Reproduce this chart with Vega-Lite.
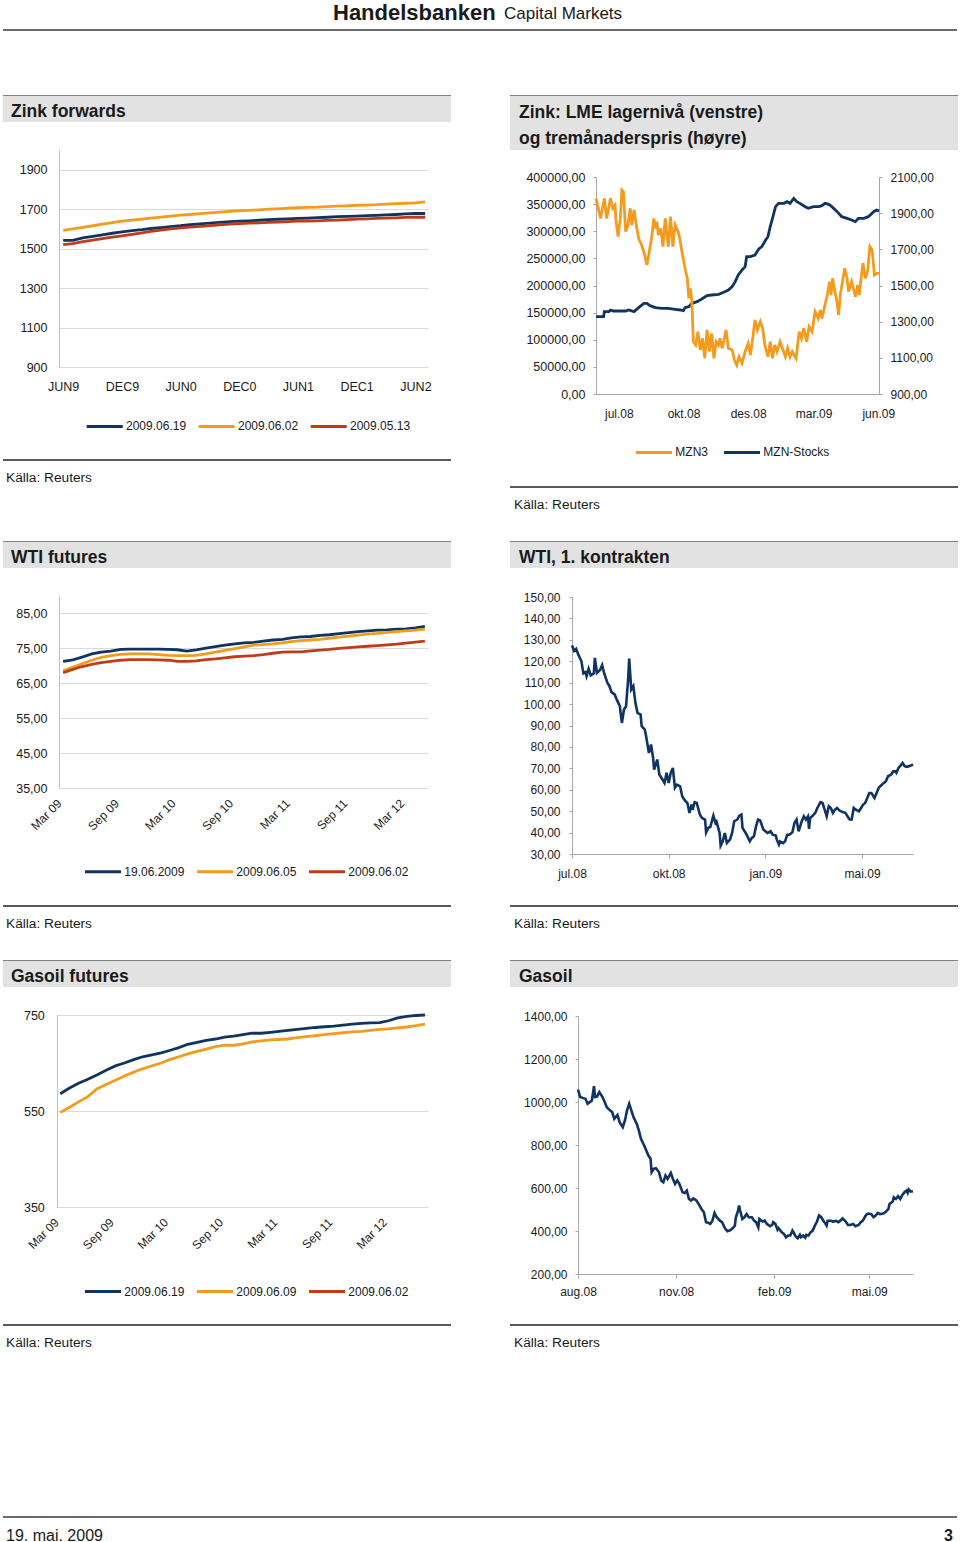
{
"$schema":"https://vega.github.io/schema/vega-lite/v6.json",
"padding":{"left":3,"top":1,"right":0,"bottom":0},
"background":"#ffffff",
"spacing":0,
"resolve":{"scale":{"color":"independent"}},
"config":{
  "view":{"stroke":null},
  "font":"Liberation Sans",
  "concat":{"spacing":0},
  "axis":{"labelFont":"Liberation Sans","labelColor":"#1a1a1a","labelFontSize":12,"domainColor":"#a6a6a6","tickColor":"#a6a6a6","gridColor":"#d9d9d9","labelFlush":false,"labelOverlap":false},
  "legend":{"labelFont":"Liberation Sans","labelFontSize":12,"labelColor":"#1a1a1a"},
  "title":{"font":"Liberation Sans","color":"#1a1a1a","anchor":"start","frame":"group"}
},
"datasets":{
"zf":[
{"contract":"2009-06-01","curve":"2009.06.19","price":1542},{"contract":"2009-06-01","curve":"2009.06.02","price":1593},{"contract":"2009-06-01","curve":"2009.05.13","price":1520},
{"contract":"2009-07-01","curve":"2009.06.19","price":1542},{"contract":"2009-07-01","curve":"2009.06.02","price":1600},{"contract":"2009-07-01","curve":"2009.05.13","price":1525},
{"contract":"2009-08-01","curve":"2009.06.19","price":1555},{"contract":"2009-08-01","curve":"2009.06.02","price":1608},{"contract":"2009-08-01","curve":"2009.05.13","price":1535},
{"contract":"2009-09-01","curve":"2009.06.19","price":1562},{"contract":"2009-09-01","curve":"2009.06.02","price":1616},{"contract":"2009-09-01","curve":"2009.05.13","price":1543},
{"contract":"2009-10-01","curve":"2009.06.19","price":1570},{"contract":"2009-10-01","curve":"2009.06.02","price":1624},{"contract":"2009-10-01","curve":"2009.05.13","price":1551},
{"contract":"2009-11-01","curve":"2009.06.19","price":1578},{"contract":"2009-11-01","curve":"2009.06.02","price":1632},{"contract":"2009-11-01","curve":"2009.05.13","price":1558},
{"contract":"2009-12-01","curve":"2009.06.19","price":1585},{"contract":"2009-12-01","curve":"2009.06.02","price":1640},{"contract":"2009-12-01","curve":"2009.05.13","price":1565},
{"contract":"2010-01-01","curve":"2009.06.19","price":1591},{"contract":"2010-01-01","curve":"2009.06.02","price":1645},{"contract":"2010-01-01","curve":"2009.05.13","price":1572},
{"contract":"2010-02-01","curve":"2009.06.19","price":1596},{"contract":"2010-02-01","curve":"2009.06.02","price":1650},{"contract":"2010-02-01","curve":"2009.05.13","price":1580},
{"contract":"2010-03-01","curve":"2009.06.19","price":1602},{"contract":"2010-03-01","curve":"2009.06.02","price":1655},{"contract":"2010-03-01","curve":"2009.05.13","price":1587},
{"contract":"2010-04-01","curve":"2009.06.19","price":1607},{"contract":"2010-04-01","curve":"2009.06.02","price":1660},{"contract":"2010-04-01","curve":"2009.05.13","price":1594},
{"contract":"2010-05-01","curve":"2009.06.19","price":1612},{"contract":"2010-05-01","curve":"2009.06.02","price":1665},{"contract":"2010-05-01","curve":"2009.05.13","price":1600},
{"contract":"2010-06-01","curve":"2009.06.19","price":1616},{"contract":"2010-06-01","curve":"2009.06.02","price":1670},{"contract":"2010-06-01","curve":"2009.05.13","price":1605},
{"contract":"2010-07-01","curve":"2009.06.19","price":1621},{"contract":"2010-07-01","curve":"2009.06.02","price":1673},{"contract":"2010-07-01","curve":"2009.05.13","price":1609},
{"contract":"2010-08-01","curve":"2009.06.19","price":1625},{"contract":"2010-08-01","curve":"2009.06.02","price":1677},{"contract":"2010-08-01","curve":"2009.05.13","price":1613},
{"contract":"2010-09-01","curve":"2009.06.19","price":1629},{"contract":"2010-09-01","curve":"2009.06.02","price":1681},{"contract":"2010-09-01","curve":"2009.05.13","price":1617},
{"contract":"2010-10-01","curve":"2009.06.19","price":1633},{"contract":"2010-10-01","curve":"2009.06.02","price":1685},{"contract":"2010-10-01","curve":"2009.05.13","price":1621},
{"contract":"2010-11-01","curve":"2009.06.19","price":1637},{"contract":"2010-11-01","curve":"2009.06.02","price":1689},{"contract":"2010-11-01","curve":"2009.05.13","price":1624},
{"contract":"2010-12-01","curve":"2009.06.19","price":1639},{"contract":"2010-12-01","curve":"2009.06.02","price":1692},{"contract":"2010-12-01","curve":"2009.05.13","price":1627},
{"contract":"2011-01-01","curve":"2009.06.19","price":1641},{"contract":"2011-01-01","curve":"2009.06.02","price":1694},{"contract":"2011-01-01","curve":"2009.05.13","price":1629},
{"contract":"2011-02-01","curve":"2009.06.19","price":1644},{"contract":"2011-02-01","curve":"2009.06.02","price":1697},{"contract":"2011-02-01","curve":"2009.05.13","price":1631},
{"contract":"2011-03-01","curve":"2009.06.19","price":1647},{"contract":"2011-03-01","curve":"2009.06.02","price":1700},{"contract":"2011-03-01","curve":"2009.05.13","price":1633},
{"contract":"2011-04-01","curve":"2009.06.19","price":1649},{"contract":"2011-04-01","curve":"2009.06.02","price":1702},{"contract":"2011-04-01","curve":"2009.05.13","price":1635},
{"contract":"2011-05-01","curve":"2009.06.19","price":1651},{"contract":"2011-05-01","curve":"2009.06.02","price":1705},{"contract":"2011-05-01","curve":"2009.05.13","price":1637},
{"contract":"2011-06-01","curve":"2009.06.19","price":1653},{"contract":"2011-06-01","curve":"2009.06.02","price":1708},{"contract":"2011-06-01","curve":"2009.05.13","price":1639},
{"contract":"2011-07-01","curve":"2009.06.19","price":1655},{"contract":"2011-07-01","curve":"2009.06.02","price":1709},{"contract":"2011-07-01","curve":"2009.05.13","price":1640},
{"contract":"2011-08-01","curve":"2009.06.19","price":1657},{"contract":"2011-08-01","curve":"2009.06.02","price":1710},{"contract":"2011-08-01","curve":"2009.05.13","price":1641},
{"contract":"2011-09-01","curve":"2009.06.19","price":1659},{"contract":"2011-09-01","curve":"2009.06.02","price":1713},{"contract":"2011-09-01","curve":"2009.05.13","price":1643},
{"contract":"2011-10-01","curve":"2009.06.19","price":1662},{"contract":"2011-10-01","curve":"2009.06.02","price":1715},{"contract":"2011-10-01","curve":"2009.05.13","price":1645},
{"contract":"2011-11-01","curve":"2009.06.19","price":1664},{"contract":"2011-11-01","curve":"2009.06.02","price":1717},{"contract":"2011-11-01","curve":"2009.05.13","price":1647},
{"contract":"2011-12-01","curve":"2009.06.19","price":1665},{"contract":"2011-12-01","curve":"2009.06.02","price":1720},{"contract":"2011-12-01","curve":"2009.05.13","price":1650},
{"contract":"2012-01-01","curve":"2009.06.19","price":1667},{"contract":"2012-01-01","curve":"2009.06.02","price":1721},{"contract":"2012-01-01","curve":"2009.05.13","price":1651},
{"contract":"2012-02-01","curve":"2009.06.19","price":1669},{"contract":"2012-02-01","curve":"2009.06.02","price":1723},{"contract":"2012-02-01","curve":"2009.05.13","price":1653},
{"contract":"2012-03-01","curve":"2009.06.19","price":1671},{"contract":"2012-03-01","curve":"2009.06.02","price":1726},{"contract":"2012-03-01","curve":"2009.05.13","price":1655},
{"contract":"2012-04-01","curve":"2009.06.19","price":1673},{"contract":"2012-04-01","curve":"2009.06.02","price":1728},{"contract":"2012-04-01","curve":"2009.05.13","price":1656},
{"contract":"2012-05-01","curve":"2009.06.19","price":1676},{"contract":"2012-05-01","curve":"2009.06.02","price":1730},{"contract":"2012-05-01","curve":"2009.05.13","price":1658},
{"contract":"2012-06-01","curve":"2009.06.19","price":1678},{"contract":"2012-06-01","curve":"2009.06.02","price":1732},{"contract":"2012-06-01","curve":"2009.05.13","price":1659},
{"contract":"2012-07-01","curve":"2009.06.19","price":1678},{"contract":"2012-07-01","curve":"2009.06.02","price":1737},{"contract":"2012-07-01","curve":"2009.05.13","price":1659}
],
"zp":[
{"date":"2008-06-12","series":"MZN3","price":1982},{"date":"2008-06-18","series":"MZN3","price":1871},{"date":"2008-06-23","series":"MZN3","price":1982},{"date":"2008-06-26","series":"MZN3","price":1871},
{"date":"2008-07-01","series":"MZN3","price":1982},{"date":"2008-07-04","series":"MZN3","price":1927},{"date":"2008-07-07","series":"MZN3","price":1945},{"date":"2008-07-08","series":"MZN3","price":1871},
{"date":"2008-07-11","series":"MZN3","price":1770},{"date":"2008-07-14","series":"MZN3","price":1871},{"date":"2008-07-16","series":"MZN3","price":2028},{"date":"2008-07-18","series":"MZN3","price":2019},
{"date":"2008-07-21","series":"MZN3","price":1798},{"date":"2008-07-24","series":"MZN3","price":1835},{"date":"2008-07-27","series":"MZN3","price":1927},{"date":"2008-07-29","series":"MZN3","price":1835},
{"date":"2008-08-01","series":"MZN3","price":1918},{"date":"2008-08-04","series":"MZN3","price":1835},{"date":"2008-08-07","series":"MZN3","price":1761},{"date":"2008-08-11","series":"MZN3","price":1724},
{"date":"2008-08-15","series":"MZN3","price":1669},{"date":"2008-08-18","series":"MZN3","price":1613},{"date":"2008-08-21","series":"MZN3","price":1687},{"date":"2008-08-24","series":"MZN3","price":1761},
{"date":"2008-08-27","series":"MZN3","price":1871},{"date":"2008-08-29","series":"MZN3","price":1816},{"date":"2008-08-31","series":"MZN3","price":1853},{"date":"2008-09-02","series":"MZN3","price":1779},
{"date":"2008-09-05","series":"MZN3","price":1816},{"date":"2008-09-08","series":"MZN3","price":1715},{"date":"2008-09-11","series":"MZN3","price":1871},{"date":"2008-09-13","series":"MZN3","price":1788},
{"date":"2008-09-15","series":"MZN3","price":1715},{"date":"2008-09-18","series":"MZN3","price":1881},{"date":"2008-09-21","series":"MZN3","price":1715},{"date":"2008-09-24","series":"MZN3","price":1835},
{"date":"2008-09-28","series":"MZN3","price":1798},{"date":"2008-09-30","series":"MZN3","price":1761},{"date":"2008-10-03","series":"MZN3","price":1687},{"date":"2008-10-07","series":"MZN3","price":1595},
{"date":"2008-10-10","series":"MZN3","price":1540},{"date":"2008-10-12","series":"MZN3","price":1429},{"date":"2008-10-14","series":"MZN3","price":1484},{"date":"2008-10-16","series":"MZN3","price":1411},
{"date":"2008-10-18","series":"MZN3","price":1189},{"date":"2008-10-21","series":"MZN3","price":1171},{"date":"2008-10-24","series":"MZN3","price":1245},{"date":"2008-10-27","series":"MZN3","price":1143},
{"date":"2008-10-30","series":"MZN3","price":1208},{"date":"2008-11-02","series":"MZN3","price":1097},{"date":"2008-11-05","series":"MZN3","price":1254},{"date":"2008-11-08","series":"MZN3","price":1134},
{"date":"2008-11-11","series":"MZN3","price":1235},{"date":"2008-11-14","series":"MZN3","price":1097},{"date":"2008-11-17","series":"MZN3","price":1189},{"date":"2008-11-20","series":"MZN3","price":1171},
{"date":"2008-11-22","series":"MZN3","price":1208},{"date":"2008-11-25","series":"MZN3","price":1153},{"date":"2008-11-30","series":"MZN3","price":1254},{"date":"2008-12-03","series":"MZN3","price":1153},
{"date":"2008-12-08","series":"MZN3","price":1143},{"date":"2008-12-11","series":"MZN3","price":1088},{"date":"2008-12-14","series":"MZN3","price":1060},{"date":"2008-12-17","series":"MZN3","price":1106},
{"date":"2008-12-21","series":"MZN3","price":1070},{"date":"2008-12-25","series":"MZN3","price":1134},{"date":"2008-12-29","series":"MZN3","price":1180},{"date":"2009-01-01","series":"MZN3","price":1116},
{"date":"2009-01-04","series":"MZN3","price":1208},{"date":"2009-01-07","series":"MZN3","price":1309},{"date":"2009-01-10","series":"MZN3","price":1254},{"date":"2009-01-14","series":"MZN3","price":1300},
{"date":"2009-01-17","series":"MZN3","price":1263},{"date":"2009-01-20","series":"MZN3","price":1171},{"date":"2009-01-24","series":"MZN3","price":1106},{"date":"2009-01-27","series":"MZN3","price":1189},
{"date":"2009-01-30","series":"MZN3","price":1097},{"date":"2009-02-02","series":"MZN3","price":1171},{"date":"2009-02-05","series":"MZN3","price":1134},{"date":"2009-02-09","series":"MZN3","price":1189},
{"date":"2009-02-12","series":"MZN3","price":1153},{"date":"2009-02-16","series":"MZN3","price":1106},{"date":"2009-02-19","series":"MZN3","price":1153},{"date":"2009-02-22","series":"MZN3","price":1106},
{"date":"2009-02-25","series":"MZN3","price":1134},{"date":"2009-03-02","series":"MZN3","price":1097},{"date":"2009-03-06","series":"MZN3","price":1245},{"date":"2009-03-09","series":"MZN3","price":1208},
{"date":"2009-03-12","series":"MZN3","price":1263},{"date":"2009-03-16","series":"MZN3","price":1189},{"date":"2009-03-19","series":"MZN3","price":1272},{"date":"2009-03-23","series":"MZN3","price":1245},
{"date":"2009-03-25","series":"MZN3","price":1300},{"date":"2009-03-27","series":"MZN3","price":1355},{"date":"2009-03-31","series":"MZN3","price":1318},{"date":"2009-04-03","series":"MZN3","price":1365},
{"date":"2009-04-05","series":"MZN3","price":1318},{"date":"2009-04-08","series":"MZN3","price":1374},{"date":"2009-04-12","series":"MZN3","price":1447},{"date":"2009-04-15","series":"MZN3","price":1521},
{"date":"2009-04-17","series":"MZN3","price":1447},{"date":"2009-04-19","series":"MZN3","price":1540},{"date":"2009-04-22","series":"MZN3","price":1466},{"date":"2009-04-24","series":"MZN3","price":1429},
{"date":"2009-04-27","series":"MZN3","price":1337},{"date":"2009-04-29","series":"MZN3","price":1447},{"date":"2009-05-02","series":"MZN3","price":1521},{"date":"2009-05-05","series":"MZN3","price":1595},
{"date":"2009-05-08","series":"MZN3","price":1540},{"date":"2009-05-10","series":"MZN3","price":1466},{"date":"2009-05-14","series":"MZN3","price":1521},{"date":"2009-05-19","series":"MZN3","price":1438},
{"date":"2009-05-22","series":"MZN3","price":1503},{"date":"2009-05-24","series":"MZN3","price":1447},{"date":"2009-05-27","series":"MZN3","price":1558},{"date":"2009-05-29","series":"MZN3","price":1623},
{"date":"2009-06-01","series":"MZN3","price":1540},{"date":"2009-06-04","series":"MZN3","price":1577},{"date":"2009-06-07","series":"MZN3","price":1715},{"date":"2009-06-10","series":"MZN3","price":1696},
{"date":"2009-06-13","series":"MZN3","price":1558},{"date":"2009-06-16","series":"MZN3","price":1567},{"date":"2009-06-19","series":"MZN3","price":1567}
],
"zs":[
{"date":"2008-06-12","series":"MZN-Stocks","tonnes":142541},{"date":"2008-06-22","series":"MZN-Stocks","tonnes":142541},{"date":"2008-06-23","series":"MZN-Stocks","tonnes":151757},{"date":"2008-06-29","series":"MZN-Stocks","tonnes":151757},
{"date":"2008-07-01","series":"MZN-Stocks","tonnes":154829},{"date":"2008-07-05","series":"MZN-Stocks","tonnes":152986},{"date":"2008-07-21","series":"MZN-Stocks","tonnes":152986},{"date":"2008-07-25","series":"MZN-Stocks","tonnes":154829},
{"date":"2008-08-01","series":"MZN-Stocks","tonnes":151757},{"date":"2008-08-07","series":"MZN-Stocks","tonnes":159130},{"date":"2008-08-14","series":"MZN-Stocks","tonnes":167117},{"date":"2008-08-18","series":"MZN-Stocks","tonnes":167117},
{"date":"2008-08-22","series":"MZN-Stocks","tonnes":162816},{"date":"2008-08-29","series":"MZN-Stocks","tonnes":159130},{"date":"2008-09-07","series":"MZN-Stocks","tonnes":157901},{"date":"2008-09-15","series":"MZN-Stocks","tonnes":157901},
{"date":"2008-09-24","series":"MZN-Stocks","tonnes":156058},{"date":"2008-10-01","series":"MZN-Stocks","tonnes":154829},{"date":"2008-10-05","series":"MZN-Stocks","tonnes":153600},{"date":"2008-10-07","series":"MZN-Stocks","tonnes":159130},
{"date":"2008-10-12","series":"MZN-Stocks","tonnes":160973},{"date":"2008-10-16","series":"MZN-Stocks","tonnes":167117},{"date":"2008-10-23","series":"MZN-Stocks","tonnes":170189},{"date":"2008-10-29","series":"MZN-Stocks","tonnes":175104},
{"date":"2008-11-05","series":"MZN-Stocks","tonnes":181248},{"date":"2008-11-11","series":"MZN-Stocks","tonnes":182477},{"date":"2008-11-20","series":"MZN-Stocks","tonnes":183706},{"date":"2008-11-27","series":"MZN-Stocks","tonnes":187392},
{"date":"2008-12-03","series":"MZN-Stocks","tonnes":191693},{"date":"2008-12-08","series":"MZN-Stocks","tonnes":197837},{"date":"2008-12-12","series":"MZN-Stocks","tonnes":207053},{"date":"2008-12-16","series":"MZN-Stocks","tonnes":219341},
{"date":"2008-12-21","series":"MZN-Stocks","tonnes":228557},{"date":"2008-12-25","series":"MZN-Stocks","tonnes":234701},{"date":"2008-12-27","series":"MZN-Stocks","tonnes":253133},{"date":"2009-01-01","series":"MZN-Stocks","tonnes":253133},
{"date":"2009-01-07","series":"MZN-Stocks","tonnes":256205},{"date":"2009-01-12","series":"MZN-Stocks","tonnes":267264},{"date":"2009-01-16","series":"MZN-Stocks","tonnes":271565},{"date":"2009-01-21","series":"MZN-Stocks","tonnes":283853},
{"date":"2009-01-24","series":"MZN-Stocks","tonnes":289997},{"date":"2009-01-27","series":"MZN-Stocks","tonnes":308429},{"date":"2009-01-30","series":"MZN-Stocks","tonnes":323789},{"date":"2009-02-03","series":"MZN-Stocks","tonnes":345293},
{"date":"2009-02-07","series":"MZN-Stocks","tonnes":351437},{"date":"2009-02-14","series":"MZN-Stocks","tonnes":351437},{"date":"2009-02-18","series":"MZN-Stocks","tonnes":354509},{"date":"2009-02-22","series":"MZN-Stocks","tonnes":351437},
{"date":"2009-02-27","series":"MZN-Stocks","tonnes":360653},{"date":"2009-03-03","series":"MZN-Stocks","tonnes":354509},{"date":"2009-03-07","series":"MZN-Stocks","tonnes":351437},{"date":"2009-03-14","series":"MZN-Stocks","tonnes":345293},
{"date":"2009-03-18","series":"MZN-Stocks","tonnes":342221},{"date":"2009-03-25","series":"MZN-Stocks","tonnes":345293},{"date":"2009-04-01","series":"MZN-Stocks","tonnes":345293},{"date":"2009-04-05","series":"MZN-Stocks","tonnes":347136},
{"date":"2009-04-09","series":"MZN-Stocks","tonnes":351437},{"date":"2009-04-14","series":"MZN-Stocks","tonnes":349594},{"date":"2009-04-18","series":"MZN-Stocks","tonnes":345293},{"date":"2009-04-25","series":"MZN-Stocks","tonnes":336077},
{"date":"2009-05-01","series":"MZN-Stocks","tonnes":326861},{"date":"2009-05-08","series":"MZN-Stocks","tonnes":323789},{"date":"2009-05-14","series":"MZN-Stocks","tonnes":320717},{"date":"2009-05-19","series":"MZN-Stocks","tonnes":317645},
{"date":"2009-05-23","series":"MZN-Stocks","tonnes":323789},{"date":"2009-05-30","series":"MZN-Stocks","tonnes":323789},{"date":"2009-06-05","series":"MZN-Stocks","tonnes":326861},{"date":"2009-06-12","series":"MZN-Stocks","tonnes":336077},
{"date":"2009-06-16","series":"MZN-Stocks","tonnes":339149},{"date":"2009-06-19","series":"MZN-Stocks","tonnes":337306}
],
"wf":[
{"contract":"2009-03-01","curve":"19.06.2009","price":71.3},{"contract":"2009-03-01","curve":"2009.06.05","price":68.6},{"contract":"2009-03-01","curve":"2009.06.02","price":68.0},
{"contract":"2009-04-01","curve":"19.06.2009","price":71.7},{"contract":"2009-04-01","curve":"2009.06.05","price":69.6},{"contract":"2009-04-01","curve":"2009.06.02","price":69.0},
{"contract":"2009-05-01","curve":"19.06.2009","price":72.5},{"contract":"2009-05-01","curve":"2009.06.05","price":70.6},{"contract":"2009-05-01","curve":"2009.06.02","price":69.8},
{"contract":"2009-06-01","curve":"19.06.2009","price":73.4},{"contract":"2009-06-01","curve":"2009.06.05","price":71.6},{"contract":"2009-06-01","curve":"2009.06.02","price":70.4},
{"contract":"2009-07-01","curve":"19.06.2009","price":73.9},{"contract":"2009-07-01","curve":"2009.06.05","price":72.4},{"contract":"2009-07-01","curve":"2009.06.02","price":70.9},
{"contract":"2009-08-01","curve":"19.06.2009","price":74.2},{"contract":"2009-08-01","curve":"2009.06.05","price":72.9},{"contract":"2009-08-01","curve":"2009.06.02","price":71.3},
{"contract":"2009-09-01","curve":"19.06.2009","price":74.7},{"contract":"2009-09-01","curve":"2009.06.05","price":73.3},{"contract":"2009-09-01","curve":"2009.06.02","price":71.6},
{"contract":"2009-10-01","curve":"19.06.2009","price":74.8},{"contract":"2009-10-01","curve":"2009.06.05","price":73.4},{"contract":"2009-10-01","curve":"2009.06.02","price":71.8},
{"contract":"2009-11-01","curve":"19.06.2009","price":74.8},{"contract":"2009-11-01","curve":"2009.06.05","price":73.4},{"contract":"2009-11-01","curve":"2009.06.02","price":71.8},
{"contract":"2009-12-01","curve":"19.06.2009","price":74.8},{"contract":"2009-12-01","curve":"2009.06.05","price":73.4},{"contract":"2009-12-01","curve":"2009.06.02","price":71.8},
{"contract":"2010-01-01","curve":"19.06.2009","price":74.8},{"contract":"2010-01-01","curve":"2009.06.05","price":73.2},{"contract":"2010-01-01","curve":"2009.06.02","price":71.7},
{"contract":"2010-02-01","curve":"19.06.2009","price":74.7},{"contract":"2010-02-01","curve":"2009.06.05","price":73.0},{"contract":"2010-02-01","curve":"2009.06.02","price":71.6},
{"contract":"2010-03-01","curve":"19.06.2009","price":74.6},{"contract":"2010-03-01","curve":"2009.06.05","price":72.9},{"contract":"2010-03-01","curve":"2009.06.02","price":71.3},
{"contract":"2010-04-01","curve":"19.06.2009","price":74.2},{"contract":"2010-04-01","curve":"2009.06.05","price":72.9},{"contract":"2010-04-01","curve":"2009.06.02","price":71.3},
{"contract":"2010-05-01","curve":"19.06.2009","price":74.6},{"contract":"2010-05-01","curve":"2009.06.05","price":73.0},{"contract":"2010-05-01","curve":"2009.06.02","price":71.4},
{"contract":"2010-06-01","curve":"19.06.2009","price":75.1},{"contract":"2010-06-01","curve":"2009.06.05","price":73.4},{"contract":"2010-06-01","curve":"2009.06.02","price":71.8},
{"contract":"2010-07-01","curve":"19.06.2009","price":75.5},{"contract":"2010-07-01","curve":"2009.06.05","price":73.9},{"contract":"2010-07-01","curve":"2009.06.02","price":72.0},
{"contract":"2010-08-01","curve":"19.06.2009","price":75.9},{"contract":"2010-08-01","curve":"2009.06.05","price":74.4},{"contract":"2010-08-01","curve":"2009.06.02","price":72.3},
{"contract":"2010-09-01","curve":"19.06.2009","price":76.3},{"contract":"2010-09-01","curve":"2009.06.05","price":74.9},{"contract":"2010-09-01","curve":"2009.06.02","price":72.6},
{"contract":"2010-10-01","curve":"19.06.2009","price":76.6},{"contract":"2010-10-01","curve":"2009.06.05","price":75.4},{"contract":"2010-10-01","curve":"2009.06.02","price":72.8},
{"contract":"2010-11-01","curve":"19.06.2009","price":76.7},{"contract":"2010-11-01","curve":"2009.06.05","price":75.9},{"contract":"2010-11-01","curve":"2009.06.02","price":72.9},
{"contract":"2010-12-01","curve":"19.06.2009","price":77.1},{"contract":"2010-12-01","curve":"2009.06.05","price":76.1},{"contract":"2010-12-01","curve":"2009.06.02","price":73.2},
{"contract":"2011-01-01","curve":"19.06.2009","price":77.4},{"contract":"2011-01-01","curve":"2009.06.05","price":76.3},{"contract":"2011-01-01","curve":"2009.06.02","price":73.6},
{"contract":"2011-02-01","curve":"19.06.2009","price":77.6},{"contract":"2011-02-01","curve":"2009.06.05","price":76.6},{"contract":"2011-02-01","curve":"2009.06.02","price":73.9},
{"contract":"2011-03-01","curve":"19.06.2009","price":78.0},{"contract":"2011-03-01","curve":"2009.06.05","price":76.9},{"contract":"2011-03-01","curve":"2009.06.02","price":74.0},
{"contract":"2011-04-01","curve":"19.06.2009","price":78.3},{"contract":"2011-04-01","curve":"2009.06.05","price":77.2},{"contract":"2011-04-01","curve":"2009.06.02","price":74.0},
{"contract":"2011-05-01","curve":"19.06.2009","price":78.4},{"contract":"2011-05-01","curve":"2009.06.05","price":77.4},{"contract":"2011-05-01","curve":"2009.06.02","price":74.3},
{"contract":"2011-06-01","curve":"19.06.2009","price":78.7},{"contract":"2011-06-01","curve":"2009.06.05","price":77.6},{"contract":"2011-06-01","curve":"2009.06.02","price":74.5},
{"contract":"2011-07-01","curve":"19.06.2009","price":78.9},{"contract":"2011-07-01","curve":"2009.06.05","price":77.9},{"contract":"2011-07-01","curve":"2009.06.02","price":74.7},
{"contract":"2011-08-01","curve":"19.06.2009","price":79.2},{"contract":"2011-08-01","curve":"2009.06.05","price":78.2},{"contract":"2011-08-01","curve":"2009.06.02","price":75.0},
{"contract":"2011-09-01","curve":"19.06.2009","price":79.5},{"contract":"2011-09-01","curve":"2009.06.05","price":78.5},{"contract":"2011-09-01","curve":"2009.06.02","price":75.2},
{"contract":"2011-10-01","curve":"19.06.2009","price":79.8},{"contract":"2011-10-01","curve":"2009.06.05","price":78.8},{"contract":"2011-10-01","curve":"2009.06.02","price":75.4},
{"contract":"2011-11-01","curve":"19.06.2009","price":80.0},{"contract":"2011-11-01","curve":"2009.06.05","price":79.1},{"contract":"2011-11-01","curve":"2009.06.02","price":75.6},
{"contract":"2011-12-01","curve":"19.06.2009","price":80.2},{"contract":"2011-12-01","curve":"2009.06.05","price":79.3},{"contract":"2011-12-01","curve":"2009.06.02","price":75.8},
{"contract":"2012-01-01","curve":"19.06.2009","price":80.3},{"contract":"2012-01-01","curve":"2009.06.05","price":79.6},{"contract":"2012-01-01","curve":"2009.06.02","price":76.0},
{"contract":"2012-02-01","curve":"19.06.2009","price":80.5},{"contract":"2012-02-01","curve":"2009.06.05","price":79.8},{"contract":"2012-02-01","curve":"2009.06.02","price":76.2},
{"contract":"2012-03-01","curve":"19.06.2009","price":80.6},{"contract":"2012-03-01","curve":"2009.06.05","price":80.0},{"contract":"2012-03-01","curve":"2009.06.02","price":76.5},
{"contract":"2012-04-01","curve":"19.06.2009","price":80.9},{"contract":"2012-04-01","curve":"2009.06.05","price":80.2},{"contract":"2012-04-01","curve":"2009.06.02","price":76.8},
{"contract":"2012-05-01","curve":"19.06.2009","price":81.3},{"contract":"2012-05-01","curve":"2009.06.05","price":80.5},{"contract":"2012-05-01","curve":"2009.06.02","price":77.1}
],
"w1":[
{"date":"2008-07-26","usd":127.4},{"date":"2008-07-28","usd":124.8},{"date":"2008-07-30","usd":125.8},{"date":"2008-08-01","usd":123.2},{"date":"2008-08-04","usd":120.1},{"date":"2008-08-06","usd":114.3},
{"date":"2008-08-08","usd":114.9},{"date":"2008-08-09","usd":113.1},{"date":"2008-08-11","usd":116.5},{"date":"2008-08-13","usd":113.4},{"date":"2008-08-16","usd":114.3},{"date":"2008-08-17","usd":121.6},
{"date":"2008-08-19","usd":114.6},{"date":"2008-08-22","usd":115.9},{"date":"2008-08-24","usd":118.2},{"date":"2008-08-26","usd":114.3},{"date":"2008-08-29","usd":110.0},{"date":"2008-08-31","usd":108.4},
{"date":"2008-09-02","usd":105.6},{"date":"2008-09-05","usd":104.5},{"date":"2008-09-07","usd":102.2},{"date":"2008-09-10","usd":99.0},{"date":"2008-09-12","usd":91.2},{"date":"2008-09-14","usd":97.5},
{"date":"2008-09-16","usd":99.0},{"date":"2008-09-18","usd":111.5},{"date":"2008-09-19","usd":121.2},{"date":"2008-09-21","usd":106.8},{"date":"2008-09-23","usd":108.4},{"date":"2008-09-25","usd":100.6},
{"date":"2008-09-27","usd":95.9},{"date":"2008-09-30","usd":95.1},{"date":"2008-10-01","usd":89.7},{"date":"2008-10-04","usd":88.1},{"date":"2008-10-05","usd":85.8},{"date":"2008-10-08","usd":77.2},
{"date":"2008-10-10","usd":81.1},{"date":"2008-10-12","usd":74.9},{"date":"2008-10-13","usd":69.4},{"date":"2008-10-16","usd":74.1},{"date":"2008-10-18","usd":67.1},{"date":"2008-10-21","usd":64.8},
{"date":"2008-10-23","usd":63.2},{"date":"2008-10-25","usd":67.9},{"date":"2008-10-27","usd":63.2},{"date":"2008-10-29","usd":67.9},{"date":"2008-10-31","usd":70.2},{"date":"2008-11-02","usd":60.9},
{"date":"2008-11-04","usd":62.4},{"date":"2008-11-07","usd":61.6},{"date":"2008-11-09","usd":57.0},{"date":"2008-11-11","usd":55.4},{"date":"2008-11-14","usd":53.8},{"date":"2008-11-16","usd":49.2},
{"date":"2008-11-18","usd":53.1},{"date":"2008-11-19","usd":50.7},{"date":"2008-11-21","usd":54.2},{"date":"2008-11-23","usd":53.8},{"date":"2008-11-26","usd":48.4},{"date":"2008-11-28","usd":46.8},
{"date":"2008-12-01","usd":46.1},{"date":"2008-12-02","usd":40.1},{"date":"2008-12-04","usd":42.2},{"date":"2008-12-06","usd":42.6},{"date":"2008-12-09","usd":47.9},{"date":"2008-12-11","usd":44.5},
{"date":"2008-12-12","usd":45.1},{"date":"2008-12-15","usd":39.8},{"date":"2008-12-16","usd":33.9},{"date":"2008-12-18","usd":35.9},{"date":"2008-12-20","usd":39.8},{"date":"2008-12-22","usd":35.1},
{"date":"2008-12-25","usd":36.7},{"date":"2008-12-27","usd":39.8},{"date":"2008-12-29","usd":45.3},{"date":"2009-01-01","usd":46.1},{"date":"2009-01-03","usd":47.9},{"date":"2009-01-05","usd":48.4},
{"date":"2009-01-06","usd":42.2},{"date":"2009-01-08","usd":40.6},{"date":"2009-01-10","usd":39.0},{"date":"2009-01-13","usd":35.9},{"date":"2009-01-15","usd":37.5},{"date":"2009-01-17","usd":38.3},
{"date":"2009-01-19","usd":42.9},{"date":"2009-01-21","usd":46.1},{"date":"2009-01-23","usd":45.7},{"date":"2009-01-26","usd":41.4},{"date":"2009-01-28","usd":40.6},{"date":"2009-01-30","usd":39.8},
{"date":"2009-02-02","usd":40.6},{"date":"2009-02-04","usd":39.0},{"date":"2009-02-07","usd":38.6},{"date":"2009-02-08","usd":36.7},{"date":"2009-02-10","usd":34.4},{"date":"2009-02-11","usd":35.9},
{"date":"2009-02-14","usd":35.1},{"date":"2009-02-16","usd":35.9},{"date":"2009-02-18","usd":39.0},{"date":"2009-02-20","usd":39.0},{"date":"2009-02-23","usd":40.1},{"date":"2009-02-25","usd":44.5},
{"date":"2009-02-27","usd":46.1},{"date":"2009-03-01","usd":40.6},{"date":"2009-03-03","usd":43.7},{"date":"2009-03-04","usd":45.3},{"date":"2009-03-06","usd":47.6},{"date":"2009-03-08","usd":46.1},
{"date":"2009-03-10","usd":47.6},{"date":"2009-03-11","usd":41.7},{"date":"2009-03-12","usd":46.8},{"date":"2009-03-14","usd":47.6},{"date":"2009-03-17","usd":49.2},{"date":"2009-03-19","usd":51.5},
{"date":"2009-03-22","usd":54.2},{"date":"2009-03-24","usd":53.8},{"date":"2009-03-26","usd":50.7},{"date":"2009-03-28","usd":47.6},{"date":"2009-03-30","usd":52.3},{"date":"2009-04-01","usd":51.5},
{"date":"2009-04-03","usd":49.2},{"date":"2009-04-05","usd":50.7},{"date":"2009-04-07","usd":51.5},{"date":"2009-04-09","usd":50.4},{"date":"2009-04-11","usd":49.9},{"date":"2009-04-13","usd":49.5},
{"date":"2009-04-15","usd":49.2},{"date":"2009-04-17","usd":47.6},{"date":"2009-04-19","usd":46.1},{"date":"2009-04-21","usd":46.1},{"date":"2009-04-23","usd":51.5},{"date":"2009-04-25","usd":50.7},
{"date":"2009-04-28","usd":49.9},{"date":"2009-04-30","usd":51.5},{"date":"2009-05-02","usd":53.1},{"date":"2009-05-04","usd":53.8},{"date":"2009-05-06","usd":56.2},{"date":"2009-05-08","usd":58.5},
{"date":"2009-05-10","usd":58.5},{"date":"2009-05-13","usd":56.2},{"date":"2009-05-15","usd":58.5},{"date":"2009-05-17","usd":60.9},{"date":"2009-05-19","usd":61.9},{"date":"2009-05-22","usd":63.2},
{"date":"2009-05-24","usd":64.0},{"date":"2009-05-26","usd":66.3},{"date":"2009-05-29","usd":67.1},{"date":"2009-05-31","usd":68.6},{"date":"2009-06-02","usd":68.6},{"date":"2009-06-03","usd":67.9},
{"date":"2009-06-05","usd":70.2},{"date":"2009-06-07","usd":71.3},{"date":"2009-06-09","usd":72.5},{"date":"2009-06-11","usd":71.0},{"date":"2009-06-13","usd":70.7},{"date":"2009-06-15","usd":71.0},
{"date":"2009-06-17","usd":71.3},{"date":"2009-06-19","usd":71.8}
],
"gf":[
{"contract":"2009-03-01","curve":"2009.06.19","price":586},{"contract":"2009-03-01","curve":"2009.06.09","price":547},
{"contract":"2009-04-01","curve":"2009.06.19","price":598},{"contract":"2009-04-01","curve":"2009.06.09","price":558},
{"contract":"2009-05-01","curve":"2009.06.19","price":608},{"contract":"2009-05-01","curve":"2009.06.09","price":569},
{"contract":"2009-06-01","curve":"2009.06.19","price":616},{"contract":"2009-06-01","curve":"2009.06.09","price":580},
{"contract":"2009-07-01","curve":"2009.06.19","price":625},{"contract":"2009-07-01","curve":"2009.06.09","price":596},
{"contract":"2009-08-01","curve":"2009.06.19","price":635},{"contract":"2009-08-01","curve":"2009.06.09","price":605},
{"contract":"2009-09-01","curve":"2009.06.19","price":644},{"contract":"2009-09-01","curve":"2009.06.09","price":614},
{"contract":"2009-10-01","curve":"2009.06.19","price":650},{"contract":"2009-10-01","curve":"2009.06.09","price":623},
{"contract":"2009-11-01","curve":"2009.06.19","price":657},{"contract":"2009-11-01","curve":"2009.06.09","price":631},
{"contract":"2009-12-01","curve":"2009.06.19","price":663},{"contract":"2009-12-01","curve":"2009.06.09","price":638},
{"contract":"2010-01-01","curve":"2009.06.19","price":667},{"contract":"2010-01-01","curve":"2009.06.09","price":644},
{"contract":"2010-02-01","curve":"2009.06.19","price":671},{"contract":"2010-02-01","curve":"2009.06.09","price":650},
{"contract":"2010-03-01","curve":"2009.06.19","price":676},{"contract":"2010-03-01","curve":"2009.06.09","price":657},
{"contract":"2010-04-01","curve":"2009.06.19","price":682},{"contract":"2010-04-01","curve":"2009.06.09","price":663},
{"contract":"2010-05-01","curve":"2009.06.19","price":689},{"contract":"2010-05-01","curve":"2009.06.09","price":669},
{"contract":"2010-06-01","curve":"2009.06.19","price":693},{"contract":"2010-06-01","curve":"2009.06.09","price":674},
{"contract":"2010-07-01","curve":"2009.06.19","price":697},{"contract":"2010-07-01","curve":"2009.06.09","price":679},
{"contract":"2010-08-01","curve":"2009.06.19","price":700},{"contract":"2010-08-01","curve":"2009.06.09","price":684},
{"contract":"2010-09-01","curve":"2009.06.19","price":704},{"contract":"2010-09-01","curve":"2009.06.09","price":687},
{"contract":"2010-10-01","curve":"2009.06.19","price":706},{"contract":"2010-10-01","curve":"2009.06.09","price":687},
{"contract":"2010-11-01","curve":"2009.06.19","price":709},{"contract":"2010-11-01","curve":"2009.06.09","price":690},
{"contract":"2010-12-01","curve":"2009.06.19","price":712},{"contract":"2010-12-01","curve":"2009.06.09","price":694},
{"contract":"2011-01-01","curve":"2009.06.19","price":712},{"contract":"2011-01-01","curve":"2009.06.09","price":696},
{"contract":"2011-02-01","curve":"2009.06.19","price":714},{"contract":"2011-02-01","curve":"2009.06.09","price":698},
{"contract":"2011-03-01","curve":"2009.06.19","price":716},{"contract":"2011-03-01","curve":"2009.06.09","price":699},
{"contract":"2011-04-01","curve":"2009.06.19","price":718},{"contract":"2011-04-01","curve":"2009.06.09","price":700},
{"contract":"2011-05-01","curve":"2009.06.19","price":720},{"contract":"2011-05-01","curve":"2009.06.09","price":703},
{"contract":"2011-06-01","curve":"2009.06.19","price":722},{"contract":"2011-06-01","curve":"2009.06.09","price":705},
{"contract":"2011-07-01","curve":"2009.06.19","price":724},{"contract":"2011-07-01","curve":"2009.06.09","price":707},
{"contract":"2011-08-01","curve":"2009.06.19","price":725.5},{"contract":"2011-08-01","curve":"2009.06.09","price":709},
{"contract":"2011-09-01","curve":"2009.06.19","price":727},{"contract":"2011-09-01","curve":"2009.06.09","price":711},
{"contract":"2011-10-01","curve":"2009.06.19","price":729},{"contract":"2011-10-01","curve":"2009.06.09","price":713},
{"contract":"2011-11-01","curve":"2009.06.19","price":731},{"contract":"2011-11-01","curve":"2009.06.09","price":715},
{"contract":"2011-12-01","curve":"2009.06.19","price":732.5},{"contract":"2011-12-01","curve":"2009.06.09","price":716},
{"contract":"2012-01-01","curve":"2009.06.19","price":733.5},{"contract":"2012-01-01","curve":"2009.06.09","price":718},
{"contract":"2012-02-01","curve":"2009.06.19","price":734},{"contract":"2012-02-01","curve":"2009.06.09","price":720},
{"contract":"2012-03-01","curve":"2009.06.19","price":738},{"contract":"2012-03-01","curve":"2009.06.09","price":721},
{"contract":"2012-04-01","curve":"2009.06.19","price":744},{"contract":"2012-04-01","curve":"2009.06.09","price":723},
{"contract":"2012-05-01","curve":"2009.06.19","price":747},{"contract":"2012-05-01","curve":"2009.06.09","price":725},
{"contract":"2012-06-01","curve":"2009.06.19","price":749},{"contract":"2012-06-01","curve":"2009.06.09","price":728},
{"contract":"2012-07-01","curve":"2009.06.19","price":750},{"contract":"2012-07-01","curve":"2009.06.09","price":731}
],
"g1":[
{"date":"2008-08-01","usd":1058},{"date":"2008-08-03","usd":1023},{"date":"2008-08-06","usd":1018},{"date":"2008-08-08","usd":1015},{"date":"2008-08-10","usd":992},{"date":"2008-08-13","usd":1003},
{"date":"2008-08-14","usd":1007},{"date":"2008-08-16","usd":1074},{"date":"2008-08-17","usd":1023},{"date":"2008-08-19","usd":1026},{"date":"2008-08-21","usd":1046},{"date":"2008-08-24","usd":1023},
{"date":"2008-08-26","usd":1000},{"date":"2008-08-28","usd":976},{"date":"2008-08-31","usd":961},{"date":"2008-09-02","usd":953},{"date":"2008-09-04","usd":922},{"date":"2008-09-07","usd":940},
{"date":"2008-09-09","usd":906},{"date":"2008-09-12","usd":883},{"date":"2008-09-14","usd":914},{"date":"2008-09-16","usd":961},{"date":"2008-09-18","usd":992},{"date":"2008-09-20","usd":961},
{"date":"2008-09-22","usd":930},{"date":"2008-09-25","usd":899},{"date":"2008-09-27","usd":868},{"date":"2008-09-29","usd":829},{"date":"2008-10-02","usd":798},{"date":"2008-10-04","usd":774},
{"date":"2008-10-06","usd":751},{"date":"2008-10-08","usd":736},{"date":"2008-10-09","usd":673},{"date":"2008-10-11","usd":689},{"date":"2008-10-13","usd":692},{"date":"2008-10-16","usd":673},
{"date":"2008-10-18","usd":635},{"date":"2008-10-20","usd":627},{"date":"2008-10-22","usd":658},{"date":"2008-10-24","usd":642},{"date":"2008-10-27","usd":670},{"date":"2008-10-29","usd":642},
{"date":"2008-10-31","usd":619},{"date":"2008-11-02","usd":635},{"date":"2008-11-04","usd":619},{"date":"2008-11-07","usd":580},{"date":"2008-11-09","usd":577},{"date":"2008-11-11","usd":588},
{"date":"2008-11-13","usd":549},{"date":"2008-11-15","usd":542},{"date":"2008-11-17","usd":552},{"date":"2008-11-20","usd":542},{"date":"2008-11-22","usd":526},{"date":"2008-11-25","usd":500},
{"date":"2008-11-27","usd":487},{"date":"2008-11-29","usd":441},{"date":"2008-12-01","usd":438},{"date":"2008-12-03","usd":433},{"date":"2008-12-05","usd":448},{"date":"2008-12-07","usd":484},
{"date":"2008-12-09","usd":464},{"date":"2008-12-12","usd":448},{"date":"2008-12-14","usd":441},{"date":"2008-12-17","usd":410},{"date":"2008-12-19","usd":399},{"date":"2008-12-21","usd":402},
{"date":"2008-12-24","usd":413},{"date":"2008-12-26","usd":425},{"date":"2008-12-27","usd":464},{"date":"2008-12-29","usd":495},{"date":"2008-12-30","usd":518},{"date":"2008-12-31","usd":495},
{"date":"2009-01-02","usd":456},{"date":"2009-01-04","usd":464},{"date":"2009-01-06","usd":479},{"date":"2009-01-08","usd":464},{"date":"2009-01-11","usd":464},{"date":"2009-01-13","usd":448},
{"date":"2009-01-15","usd":441},{"date":"2009-01-17","usd":417},{"date":"2009-01-18","usd":456},{"date":"2009-01-21","usd":444},{"date":"2009-01-23","usd":448},{"date":"2009-01-25","usd":433},
{"date":"2009-01-28","usd":422},{"date":"2009-01-30","usd":428},{"date":"2009-01-31","usd":441},{"date":"2009-02-02","usd":433},{"date":"2009-02-04","usd":406},{"date":"2009-02-05","usd":413},
{"date":"2009-02-08","usd":394},{"date":"2009-02-10","usd":386},{"date":"2009-02-12","usd":371},{"date":"2009-02-14","usd":379},{"date":"2009-02-16","usd":379},{"date":"2009-02-18","usd":402},
{"date":"2009-02-19","usd":394},{"date":"2009-02-21","usd":375},{"date":"2009-02-23","usd":366},{"date":"2009-02-25","usd":382},{"date":"2009-02-26","usd":371},{"date":"2009-02-28","usd":379},
{"date":"2009-03-02","usd":369},{"date":"2009-03-03","usd":382},{"date":"2009-03-05","usd":379},{"date":"2009-03-07","usd":394},{"date":"2009-03-09","usd":402},{"date":"2009-03-11","usd":425},
{"date":"2009-03-13","usd":444},{"date":"2009-03-15","usd":472},{"date":"2009-03-17","usd":464},{"date":"2009-03-19","usd":448},{"date":"2009-03-20","usd":441},{"date":"2009-03-22","usd":425},
{"date":"2009-03-23","usd":448},{"date":"2009-03-26","usd":448},{"date":"2009-03-28","usd":444},{"date":"2009-03-31","usd":447},{"date":"2009-04-02","usd":441},{"date":"2009-04-04","usd":448},
{"date":"2009-04-06","usd":459},{"date":"2009-04-09","usd":444},{"date":"2009-04-11","usd":428},{"date":"2009-04-13","usd":428},{"date":"2009-04-16","usd":433},{"date":"2009-04-18","usd":422},
{"date":"2009-04-21","usd":428},{"date":"2009-04-23","usd":441},{"date":"2009-04-25","usd":448},{"date":"2009-04-28","usd":475},{"date":"2009-04-30","usd":481},{"date":"2009-05-03","usd":478},
{"date":"2009-05-05","usd":464},{"date":"2009-05-07","usd":472},{"date":"2009-05-09","usd":484},{"date":"2009-05-11","usd":478},{"date":"2009-05-14","usd":481},{"date":"2009-05-16","usd":487},
{"date":"2009-05-19","usd":503},{"date":"2009-05-20","usd":526},{"date":"2009-05-23","usd":537},{"date":"2009-05-24","usd":557},{"date":"2009-05-26","usd":549},{"date":"2009-05-28","usd":562},
{"date":"2009-05-30","usd":549},{"date":"2009-06-01","usd":568},{"date":"2009-06-03","usd":580},{"date":"2009-06-05","usd":588},{"date":"2009-06-06","usd":577},{"date":"2009-06-07","usd":593},
{"date":"2009-06-09","usd":583},{"date":"2009-06-11","usd":585}
]
},
"vconcat":[
{"hconcat":[
  {"data":{"values":[]},"mark":"point","width":330,"height":2,"view":{"fill":"#6b6b6b","stroke":null}},
  {"data":{"values":[]},"mark":"point","width":171,"height":2,"view":{"fill":"#6b6b6b","stroke":null},"title":{"text":"Handelsbanken","orient":"top","anchor":"start","offset":4.5,"fontSize":22,"fontWeight":"bold"}},
  {"data":{"values":[]},"mark":"point","width":453,"height":2,"view":{"fill":"#6b6b6b","stroke":null},"title":{"text":"Capital Markets","orient":"top","anchor":"start","offset":6,"fontSize":17,"fontWeight":"normal"}}
],"spacing":0,"bounds":"flush"},
{"data":{"values":[]},"mark":"point","width":954,"height":64},
{"hconcat":[
  {"vconcat":[
    {"data":{"values":[]},"mark":"point","width":448,"height":1,"view":{"fill":"#808080","stroke":null}},
    {"data":{"values":[]},"mark":"point","width":448,"height":26,"view":{"fill":"#e2e2e2","stroke":null},"title":{"text":"Zink forwards","orient":"top","anchor":"start","offset":-24,"dx":8,"fontSize":17.5,"fontWeight":"bold"}},
    {"data":{"values":[]},"mark":"point","width":448,"height":28},
    {"hconcat":[
      {"data":{"values":[]},"mark":"point","width":56,"height":309},
      {"width":369,"height":217,"data":{"name":"zf"},"mark":{"type":"line","strokeWidth":2.8},
       "encoding":{
        "x":{"field":"contract","type":"temporal","scale":{"type":"utc","nice":false,"domain":[{"year":2009,"month":5,"date":19,"utc":true},{"year":2012,"month":7,"date":10,"utc":true}]},
             "axis":{"title":null,"grid":false,"domain":false,"ticks":false,"labelPadding":13.5,"labelFontSize":12.5,"labelAngle":0,
                     "values":[{"year":2009,"month":6,"date":1,"utc":true},{"year":2009,"month":12,"date":1,"utc":true},{"year":2010,"month":6,"date":1,"utc":true},{"year":2010,"month":12,"date":1,"utc":true},{"year":2011,"month":6,"date":1,"utc":true},{"year":2011,"month":12,"date":1,"utc":true},{"year":2012,"month":6,"date":1,"utc":true}],
                     "labelExpr":"(utcmonth(datum.value)==5?'JUN':'DEC')+(utcyear(datum.value)%10)"}},
        "y":{"field":"price","type":"quantitative","scale":{"domain":[900,2000],"nice":false,"zero":false},
             "axis":{"title":null,"values":[900,1100,1300,1500,1700,1900],"format":"d","grid":true,"ticks":false,"domain":true,"domainColor":"#bfbfbf","labelPadding":12,"labelFontSize":12.5}},
        "color":{"field":"curve","type":"nominal","scale":{"domain":["2009.06.19","2009.06.02","2009.05.13"],"range":["#103462","#f39b1d","#c23b19"]},
                 "legend":{"orient":"none","legendX":81.7,"legendY":311.4,"direction":"horizontal","title":null,"symbolType":"stroke","symbolSize":1300,"symbolStrokeWidth":3,"labelOffset":1.3,"columnPadding":5,"padding":0,"labelFontSize":12}}
       }}
    ],"spacing":0,"bounds":"flush"},
    {"data":{"values":[]},"mark":"point","width":448,"height":2,"view":{"fill":"#595959","stroke":null},"title":{"text":"Källa: Reuters","orient":"bottom","anchor":"start","offset":10,"dx":3,"fontSize":13.7,"fontWeight":"normal"}}
  ],"spacing":0},
  {"data":{"values":[]},"mark":"point","width":59,"height":1},
  {"vconcat":[
    {"data":{"values":[]},"mark":"point","width":448,"height":1,"view":{"fill":"#808080","stroke":null}},
    {"data":{"values":[]},"mark":"point","width":448,"height":54,"view":{"fill":"#e2e2e2","stroke":null},"title":{"text":["Zink: LME lagernivå (venstre)","og tremånaderspris (høyre)"],"lineHeight":26,"orient":"top","anchor":"start","offset":-51,"dx":9,"fontSize":17.5,"fontWeight":"bold"}},
    {"data":{"values":[]},"mark":"point","width":448,"height":20.75},
    {"hconcat":[
      {"data":{"values":[]},"mark":"point","width":86,"height":309},
      {"width":283,"height":217,
       "layer":[
        {"data":{"name":"zs"},"mark":{"type":"line","strokeWidth":2.8},
         "encoding":{
          "x":{"field":"date","type":"temporal","scale":{"type":"utc","nice":false,"domain":[{"year":2008,"month":6,"date":12,"utc":true},{"year":2009,"month":6,"date":19,"utc":true}]},
               "axis":{"title":null,"grid":false,"domain":true,"ticks":false,"labelPadding":14.5,"labelAngle":0,
                       "values":[{"year":2008,"month":7,"date":12,"utc":true},{"year":2008,"month":10,"date":5,"utc":true},{"year":2008,"month":12,"date":29,"utc":true},{"year":2009,"month":3,"date":25,"utc":true},{"year":2009,"month":6,"date":18,"utc":true}],
                       "labelExpr":"['jan','feb','mar','apr','mai','jun','jul','aug','sep','okt','nov','des'][utcmonth(datum.value)]+'.'+utcFormat(datum.value,'%y')"}},
          "y":{"field":"tonnes","type":"quantitative","scale":{"domain":[0,400000],"nice":false,"zero":false},
               "axis":{"title":null,"orient":"left","grid":false,"values":[0,50000,100000,150000,200000,250000,300000,350000,400000],"labelExpr":"replace(format(datum.value,'.2f'),'.',',')","tickSize":3,"labelPadding":8,"labelFontSize":12.5}},
          "color":{"field":"series","type":"nominal","scale":{"domain":["MZN3","MZN-Stocks"],"range":["#f39b1d","#103462"]},
                   "legend":{"orient":"none","legendX":124,"legendY":337.4,"direction":"horizontal","title":null,"symbolType":"stroke","symbolSize":1300,"symbolStrokeWidth":3,"labelOffset":1.3,"columnPadding":9,"padding":0,"labelFontSize":12}}
         }},
        {"data":{"name":"zp"},"mark":{"type":"line","strokeWidth":2.8},
         "encoding":{
          "x":{"field":"date","type":"temporal","scale":{"type":"utc","nice":false,"domain":[{"year":2008,"month":6,"date":12,"utc":true},{"year":2009,"month":6,"date":19,"utc":true}]}},
          "y":{"field":"price","type":"quantitative","scale":{"domain":[900,2100],"nice":false,"zero":false},
               "axis":{"title":null,"orient":"right","grid":false,"values":[900,1100,1300,1500,1700,1900,2100],"labelExpr":"replace(format(datum.value,'.2f'),'.',',')","tickSize":3,"labelPadding":8,"labelFontSize":12}},
          "color":{"field":"series","type":"nominal"}
         }}
       ],
       "resolve":{"scale":{"y":"independent"}}}
    ],"spacing":0,"bounds":"flush"},
    {"data":{"values":[]},"mark":"point","width":448,"height":2,"view":{"fill":"#595959","stroke":null},"title":{"text":"Källa: Reuters","orient":"bottom","anchor":"start","offset":10,"dx":4,"fontSize":13.7,"fontWeight":"normal"}}
  ],"spacing":0}
],"spacing":0,"resolve":{"scale":{"color":"independent"}}},
{"data":{"values":[]},"mark":"point","width":954,"height":28.1},
{"hconcat":[
  {"vconcat":[
    {"data":{"values":[]},"mark":"point","width":448,"height":1,"view":{"fill":"#808080","stroke":null}},
    {"data":{"values":[]},"mark":"point","width":448,"height":26,"view":{"fill":"#e2e2e2","stroke":null},"title":{"text":"WTI futures","orient":"top","anchor":"start","offset":-24,"dx":8,"fontSize":17.5,"fontWeight":"bold"}},
    {"data":{"values":[]},"mark":"point","width":448,"height":28},
    {"hconcat":[
      {"data":{"values":[]},"mark":"point","width":56,"height":309},
      {"width":369,"height":192,"data":{"name":"wf"},"mark":{"type":"line","strokeWidth":2.8},
       "encoding":{
        "x":{"field":"contract","type":"temporal","scale":{"type":"utc","nice":false,"domain":[{"year":2009,"month":2,"date":16,"utc":true},{"year":2012,"month":5,"date":11,"utc":true}]},
             "axis":{"title":null,"grid":false,"domain":false,"ticks":false,"labelAngle":-45,"labelAlign":"right","labelBaseline":"middle","labelPadding":13,"labelOffset":-4,"labelFontSize":12,
                     "values":[{"year":2009,"month":3,"date":1,"utc":true},{"year":2009,"month":9,"date":1,"utc":true},{"year":2010,"month":3,"date":1,"utc":true},{"year":2010,"month":9,"date":1,"utc":true},{"year":2011,"month":3,"date":1,"utc":true},{"year":2011,"month":9,"date":1,"utc":true},{"year":2012,"month":3,"date":1,"utc":true}],
                     "labelExpr":"(utcmonth(datum.value)==2?'Mar ':'Sep ')+utcFormat(datum.value,'%y')"}},
        "y":{"field":"price","type":"quantitative","scale":{"domain":[35,90],"nice":false,"zero":false},
             "axis":{"title":null,"values":[35,45,55,65,75,85],"labelExpr":"replace(format(datum.value,'.2f'),'.',',')","grid":true,"ticks":false,"domain":true,"domainColor":"#bfbfbf","labelPadding":12,"labelFontSize":12.5}},
        "color":{"field":"curve","type":"nominal","scale":{"domain":["19.06.2009","2009.06.05","2009.06.02"],"range":["#103462","#f39b1d","#c23b19"]},
                 "legend":{"orient":"none","legendX":80,"legendY":310.7,"direction":"horizontal","title":null,"symbolType":"stroke","symbolSize":1300,"symbolStrokeWidth":3,"labelOffset":1.3,"columnPadding":5,"padding":0,"labelFontSize":12}}
       }}
    ],"spacing":0,"bounds":"flush"},
    {"data":{"values":[]},"mark":"point","width":448,"height":2,"view":{"fill":"#595959","stroke":null},"title":{"text":"Källa: Reuters","orient":"bottom","anchor":"start","offset":10,"dx":3,"fontSize":13.7,"fontWeight":"normal"}}
  ],"spacing":0},
  {"data":{"values":[]},"mark":"point","width":59,"height":1},
  {"vconcat":[
    {"data":{"values":[]},"mark":"point","width":448,"height":1,"view":{"fill":"#808080","stroke":null}},
    {"data":{"values":[]},"mark":"point","width":448,"height":26,"view":{"fill":"#e2e2e2","stroke":null},"title":{"text":"WTI, 1. kontrakten","orient":"top","anchor":"start","offset":-24,"dx":9,"fontSize":17.5,"fontWeight":"bold"}},
    {"data":{"values":[]},"mark":"point","width":448,"height":23},
    {"hconcat":[
      {"data":{"values":[]},"mark":"point","width":62,"height":308},
      {"width":341,"height":257,"data":{"name":"w1"},"mark":{"type":"line","strokeWidth":2.6,"color":"#103462"},
       "encoding":{
        "x":{"field":"date","type":"temporal","scale":{"type":"utc","nice":false,"domain":[{"year":2008,"month":7,"date":26,"utc":true},{"year":2009,"month":6,"date":19,"utc":true}]},
             "axis":{"title":null,"grid":false,"domain":true,"ticks":true,"tickSize":4,"labelPadding":10,"labelAngle":0,
                     "values":[{"year":2008,"month":7,"date":26,"utc":true},{"year":2008,"month":10,"date":27,"utc":true},{"year":2009,"month":1,"date":28,"utc":true},{"year":2009,"month":5,"date":1,"utc":true}],
                     "labelExpr":"['jan','feb','mar','apr','mai','jun','jul','aug','sep','okt','nov','des'][utcmonth(datum.value)]+'.'+utcFormat(datum.value,'%y')"}},
        "y":{"field":"usd","type":"quantitative","scale":{"domain":[30,150],"nice":false,"zero":false},
             "axis":{"title":null,"grid":false,"values":[30,40,50,60,70,80,90,100,110,120,130,140,150],"labelExpr":"replace(format(datum.value,'.2f'),'.',',')","tickSize":3,"labelPadding":9,"labelFontSize":12}}
       }}
    ],"spacing":0,"bounds":"flush"},
    {"data":{"values":[]},"mark":"point","width":448,"height":2,"view":{"fill":"#595959","stroke":null},"title":{"text":"Källa: Reuters","orient":"bottom","anchor":"start","offset":10,"dx":4,"fontSize":13.7,"fontWeight":"normal"}}
  ],"spacing":0}
],"spacing":0,"resolve":{"scale":{"color":"independent"}}},
{"data":{"values":[]},"mark":"point","width":954,"height":28.1},
{"hconcat":[
  {"vconcat":[
    {"data":{"values":[]},"mark":"point","width":448,"height":1,"view":{"fill":"#808080","stroke":null}},
    {"data":{"values":[]},"mark":"point","width":448,"height":26,"view":{"fill":"#e2e2e2","stroke":null},"title":{"text":"Gasoil futures","orient":"top","anchor":"start","offset":-24,"dx":8,"fontSize":17.5,"fontWeight":"bold"}},
    {"data":{"values":[]},"mark":"point","width":448,"height":21.75},
    {"hconcat":[
      {"data":{"values":[]},"mark":"point","width":54,"height":309},
      {"width":371,"height":192,"data":{"name":"gf"},"mark":{"type":"line","strokeWidth":2.8},
       "encoding":{
        "x":{"field":"contract","type":"temporal","scale":{"type":"utc","nice":false,"domain":[{"year":2009,"month":2,"date":18,"utc":true},{"year":2012,"month":7,"date":11,"utc":true}]},
             "axis":{"title":null,"grid":false,"domain":false,"ticks":false,"labelAngle":-45,"labelAlign":"right","labelBaseline":"middle","labelPadding":13,"labelOffset":-4,"labelFontSize":12,
                     "values":[{"year":2009,"month":3,"date":1,"utc":true},{"year":2009,"month":9,"date":1,"utc":true},{"year":2010,"month":3,"date":1,"utc":true},{"year":2010,"month":9,"date":1,"utc":true},{"year":2011,"month":3,"date":1,"utc":true},{"year":2011,"month":9,"date":1,"utc":true},{"year":2012,"month":3,"date":1,"utc":true}],
                     "labelExpr":"(utcmonth(datum.value)==2?'Mar ':'Sep ')+utcFormat(datum.value,'%y')"}},
        "y":{"field":"price","type":"quantitative","scale":{"domain":[350,750],"nice":false,"zero":false},
             "axis":{"title":null,"values":[350,550,750],"format":"d","grid":true,"ticks":false,"domain":true,"domainColor":"#bfbfbf","labelPadding":12.7,"labelFontSize":12.5}},
        "color":{"field":"curve","type":"nominal","scale":{"domain":["2009.06.19","2009.06.09","2009.06.02"],"range":["#103462","#f39b1d","#c23b19"]},
                 "legend":{"orient":"none","legendX":80,"legendY":311.5,"direction":"horizontal","title":null,"symbolType":"stroke","symbolSize":1300,"symbolStrokeWidth":3,"labelOffset":1.3,"columnPadding":5,"padding":0,"labelFontSize":12}}
       }}
    ],"spacing":0,"bounds":"flush"},
    {"data":{"values":[]},"mark":"point","width":448,"height":2,"view":{"fill":"#595959","stroke":null},"title":{"text":"Källa: Reuters","orient":"bottom","anchor":"start","offset":10,"dx":3,"fontSize":13.7,"fontWeight":"normal"}}
  ],"spacing":0},
  {"data":{"values":[]},"mark":"point","width":59,"height":1},
  {"vconcat":[
    {"data":{"values":[]},"mark":"point","width":448,"height":1,"view":{"fill":"#808080","stroke":null}},
    {"data":{"values":[]},"mark":"point","width":448,"height":26,"view":{"fill":"#e2e2e2","stroke":null},"title":{"text":"Gasoil","orient":"top","anchor":"start","offset":-24,"dx":9,"fontSize":17.5,"fontWeight":"bold"}},
    {"data":{"values":[]},"mark":"point","width":448,"height":23},
    {"hconcat":[
      {"data":{"values":[]},"mark":"point","width":68,"height":308},
      {"width":335,"height":258,"data":{"name":"g1"},"mark":{"type":"line","strokeWidth":2.6,"color":"#103462"},
       "encoding":{
        "x":{"field":"date","type":"temporal","scale":{"type":"utc","nice":false,"domain":[{"year":2008,"month":8,"date":1,"utc":true},{"year":2009,"month":6,"date":11,"utc":true}]},
             "axis":{"title":null,"grid":false,"domain":true,"ticks":true,"tickSize":4,"labelPadding":8,"labelAngle":0,
                     "values":[{"year":2008,"month":8,"date":1,"utc":true},{"year":2008,"month":11,"date":1,"utc":true},{"year":2009,"month":2,"date":1,"utc":true},{"year":2009,"month":5,"date":1,"utc":true}],
                     "labelExpr":"['jan','feb','mar','apr','mai','jun','jul','aug','sep','okt','nov','des'][utcmonth(datum.value)]+'.'+utcFormat(datum.value,'%y')"}},
        "y":{"field":"usd","type":"quantitative","scale":{"domain":[200,1400],"nice":false,"zero":false},
             "axis":{"title":null,"grid":false,"values":[200,400,600,800,1000,1200,1400],"labelExpr":"replace(format(datum.value,'.2f'),'.',',')","tickSize":3,"labelPadding":8,"labelFontSize":12}}
       }}
    ],"spacing":0,"bounds":"flush"},
    {"data":{"values":[]},"mark":"point","width":448,"height":2,"view":{"fill":"#595959","stroke":null},"title":{"text":"Källa: Reuters","orient":"bottom","anchor":"start","offset":10,"dx":4,"fontSize":13.7,"fontWeight":"normal"}}
  ],"spacing":0}
],"spacing":0,"resolve":{"scale":{"color":"independent"}}},
{"data":{"values":[]},"mark":"point","width":954,"height":165.6},
{"hconcat":[
  {"data":{"values":[]},"mark":"point","width":940,"height":2,"view":{"fill":"#6b6b6b","stroke":null},"title":{"text":"19. mai. 2009","orient":"bottom","anchor":"start","offset":10,"dx":3,"fontSize":16,"fontWeight":"normal"}},
  {"data":{"values":[]},"mark":"point","width":14,"height":2,"view":{"fill":"#6b6b6b","stroke":null},"title":{"text":"3","orient":"bottom","anchor":"end","offset":10,"dx":-4,"fontSize":16,"fontWeight":"bold"}}
],"spacing":0,"bounds":"flush"}
]
}
